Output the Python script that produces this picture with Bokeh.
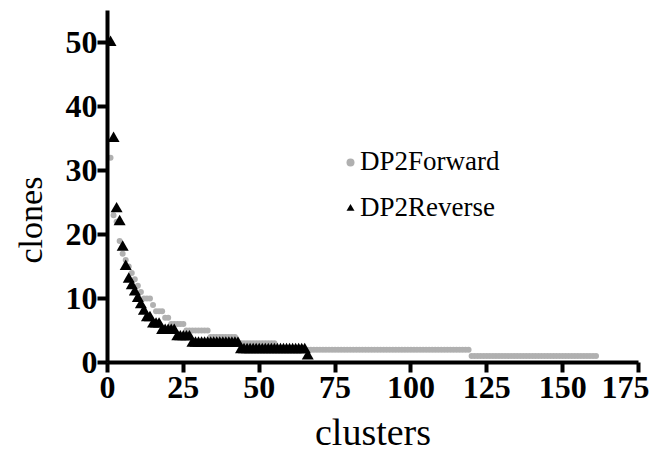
from bokeh.plotting import figure
from bokeh.models import Range1d, FixedTicker, Legend, LegendItem, Title, ColumnDataSource
from bokeh.core.properties import value
from bokeh.embed import file_html
from bokeh.resources import INLINE

# cluster sizes (clones per cluster), ranked by size -- 10 values per row
dp2_forward = [32, 23, 22, 19, 17, 16, 15, 14, 13, 12,
               11, 10, 10, 10, 9, 8, 8, 8, 7, 7,
               6, 6, 6, 6, 6, 5, 5, 5, 5, 5,
               5, 5, 5, 4, 4, 4, 4, 4, 4, 4,
               4, 4, 3, 3, 3, 3, 3, 3, 3, 3,
               3, 3, 3, 3, 3, 2, 2, 2, 2, 2,
               2, 2, 2, 2, 2, 2, 2, 2, 2, 2,
               2, 2, 2, 2, 2, 2, 2, 2, 2, 2,
               2, 2, 2, 2, 2, 2, 2, 2, 2, 2,
               2, 2, 2, 2, 2, 2, 2, 2, 2, 2,
               2, 2, 2, 2, 2, 2, 2, 2, 2, 2,
               2, 2, 2, 2, 2, 2, 2, 2, 2, 1,
               1, 1, 1, 1, 1, 1, 1, 1, 1, 1,
               1, 1, 1, 1, 1, 1, 1, 1, 1, 1,
               1, 1, 1, 1, 1, 1, 1, 1, 1, 1,
               1, 1, 1, 1, 1, 1, 1, 1, 1, 1,
               1]
dp2_reverse = [50, 35, 24, 22, 18, 15, 13, 12, 11, 10,
               9, 8, 7, 7, 6, 6, 6, 5, 5, 5,
               5, 5, 4, 4, 4, 4, 4, 3, 3, 3,
               3, 3, 3, 3, 3, 3, 3, 3, 3, 3,
               3, 3, 3, 2, 2, 2, 2, 2, 2, 2,
               2, 2, 2, 2, 2, 2, 2, 2, 2, 2,
               2, 2, 2, 2, 2, 1]
x_ticks = [0, 25, 50, 75, 100, 125, 150, 175]
y_ticks = [0, 10, 20, 30, 40, 50]

fwd_rank = list(range(1, len(dp2_forward) + 1))
rev_rank = list(range(1, len(dp2_reverse) + 1))

p = figure(width=649, height=456, output_backend="svg", toolbar_location=None,
           x_range=Range1d(0, 175), y_range=Range1d(0, 55),
           min_border_left=107, min_border_right=11, min_border_top=10, min_border_bottom=94)
p.outline_line_color = None
p.grid.visible = False
p.background_fill_color = "white"

src_f = ColumnDataSource(dict(x=fwd_rank, y=dp2_forward))
src_r = ColumnDataSource(dict(x=rev_rank, y=dp2_reverse))
rf = p.scatter("x", "y", source=src_f, marker="circle", size=6,
               fill_color="#b0b0b0", line_color=None)
rr = p.scatter("x", "y", source=src_r, marker="triangle", size=12,
               fill_color="black", line_color=None)

for ax in (p.xaxis[0], p.yaxis[0]):
    ax.axis_line_width = 4
    ax.axis_line_color = "black"
    ax.major_tick_line_width = 4
    ax.major_tick_line_color = "black"
    ax.major_tick_out = 10
    ax.major_tick_in = 0
    ax.minor_tick_line_color = None
    ax.major_label_text_font = "Liberation Serif"
    ax.major_label_text_font_style = "bold"
    ax.major_label_text_font_size = "32px"
    ax.major_label_text_color = "black"

p.xaxis[0].ticker = FixedTicker(ticks=x_ticks)
p.yaxis[0].ticker = FixedTicker(ticks=y_ticks)
p.xaxis[0].major_label_standoff = 4
p.yaxis[0].major_label_standoff = 0

p.xaxis[0].axis_label = "clusters"
p.xaxis[0].axis_label_text_font = "Liberation Serif"
p.xaxis[0].axis_label_text_font_style = "normal"
p.xaxis[0].axis_label_text_font_size = "38px"
p.xaxis[0].axis_label_text_color = "black"
p.xaxis[0].axis_label_standoff = 10

ytitle = Title(text="clones", align="left", offset=99, standoff=23, vertical_align="top",
               text_font="Liberation Serif", text_font_style="normal",
               text_font_size="34px", text_color="black")
p.add_layout(ytitle, "left")

legend = Legend(items=[LegendItem(label="DP2Forward", renderers=[rf]),
                       LegendItem(label="DP2Reverse", renderers=[rr])],
                location=(233, 139), border_line_color=None, background_fill_alpha=0,
                label_text_font_size="27px", label_text_color="black",
                glyph_width=20, glyph_height=22, label_standoff=0, spacing=15,
                padding=0, margin=0)
try:
    legend.label_text_font = value("Liberation Serif")
except Exception:
    legend.label_text_font = "Liberation Serif"
p.add_layout(legend)

open("out.html", "w").write(file_html(p, INLINE))
